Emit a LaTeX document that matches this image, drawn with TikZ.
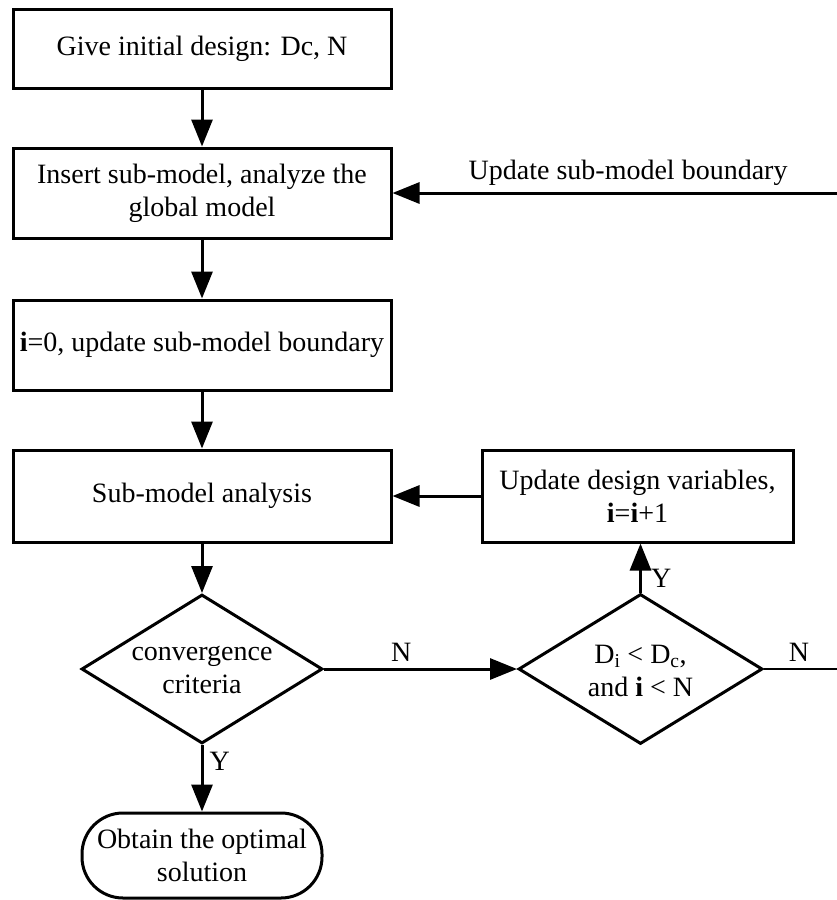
\documentclass[tikz,border=0pt]{standalone}
\usepackage{fontspec}
\setmainfont{Liberation Serif}
\usetikzlibrary{arrows.meta,shapes.geometric}
\begin{document}
\begin{tikzpicture}[x=1pt,y=-1pt,
  every node/.style={font=\fontsize{28}{33}\selectfont},
  procbox/.style={draw,line width=3pt,inner sep=0pt,align=center},
  decision/.style={draw,diamond,line width=3pt,inner sep=0pt},
  terminal/.style={draw,line width=3pt,rounded corners=41pt,inner sep=0pt,align=center},
  flow/.style={line width=3pt,-{Triangle[length=27pt,width=21pt]}},
  plainline/.style={line width=2.6pt},
  tag/.style={inner sep=0pt}]
\useasboundingbox (0,0) rectangle (837,900);

% main column
\node[procbox,minimum width=378pt,minimum height=79pt] (b1) at (202,48.5) {Give initial design: Dc, N};
\node[procbox,minimum width=378pt,minimum height=90pt] (b2) at (202,193) {Insert sub-model, analyze the\\global model};
\node[procbox,minimum width=378pt,minimum height=90pt] (b3) at (202,345) {\textbf{i}=0, update sub-model boundary};
\node[procbox,minimum width=378pt,minimum height=92pt] (b4) at (202,496) {Sub-model analysis};
\node[decision,minimum width=241pt,minimum height=149pt] (d1) at (202,669) {};
\node[tag,align=center] (d1t) at (202,670) {convergence\\criteria};
\node[terminal,minimum width=240pt,minimum height=85pt] (t1) at (202,855.5) {Obtain the optimal\\solution};

% right column
\node[procbox,minimum width=311pt,minimum height=92pt] (b5) at (637.5,496) {Update design variables,\\\textbf{i}=\textbf{i}+1};
\node[decision,minimum width=244pt,minimum height=150pt] (d2) at (640.5,669) {};
\node[tag,align=center] (d2t) at (640.5,671) {D\textsubscript{i} < D\textsubscript{c},\\and \textbf{i} < N};

% open ends at the right border
\coordinate (r1) at (837,193);
\coordinate (r2) at (837,669);

% connectors
\draw[flow] (b1) -- (b2);
\draw[flow] (b2) -- (b3);
\draw[flow] (b3) -- (b4);
\draw[flow] (b4) -- (d1.north);
\draw[flow] (d1.south) -- node[tag,anchor=west,pos=0.25,xshift=6pt] (ly1) {Y} (t1);
\draw[flow] (d1.east) -- node[tag,anchor=south,pos=0.4,yshift=6pt] (ln1) {N} (d2.west);
\draw[flow] (d2.north) -- node[tag,anchor=west,pos=0.28,xshift=9pt] (ly2) {Y} (d2.north |- b5.south);
\draw[flow] (b5) -- (b4);
\draw[plainline] (d2.east) -- node[tag,anchor=south,pos=0.48,yshift=6pt] (ln2) {N} (r2);
\draw[flow] (r1) -- node[tag,anchor=south,pos=0.47,yshift=6pt] (lub) {Update sub-model boundary} (b2);
\end{tikzpicture}
\end{document}
